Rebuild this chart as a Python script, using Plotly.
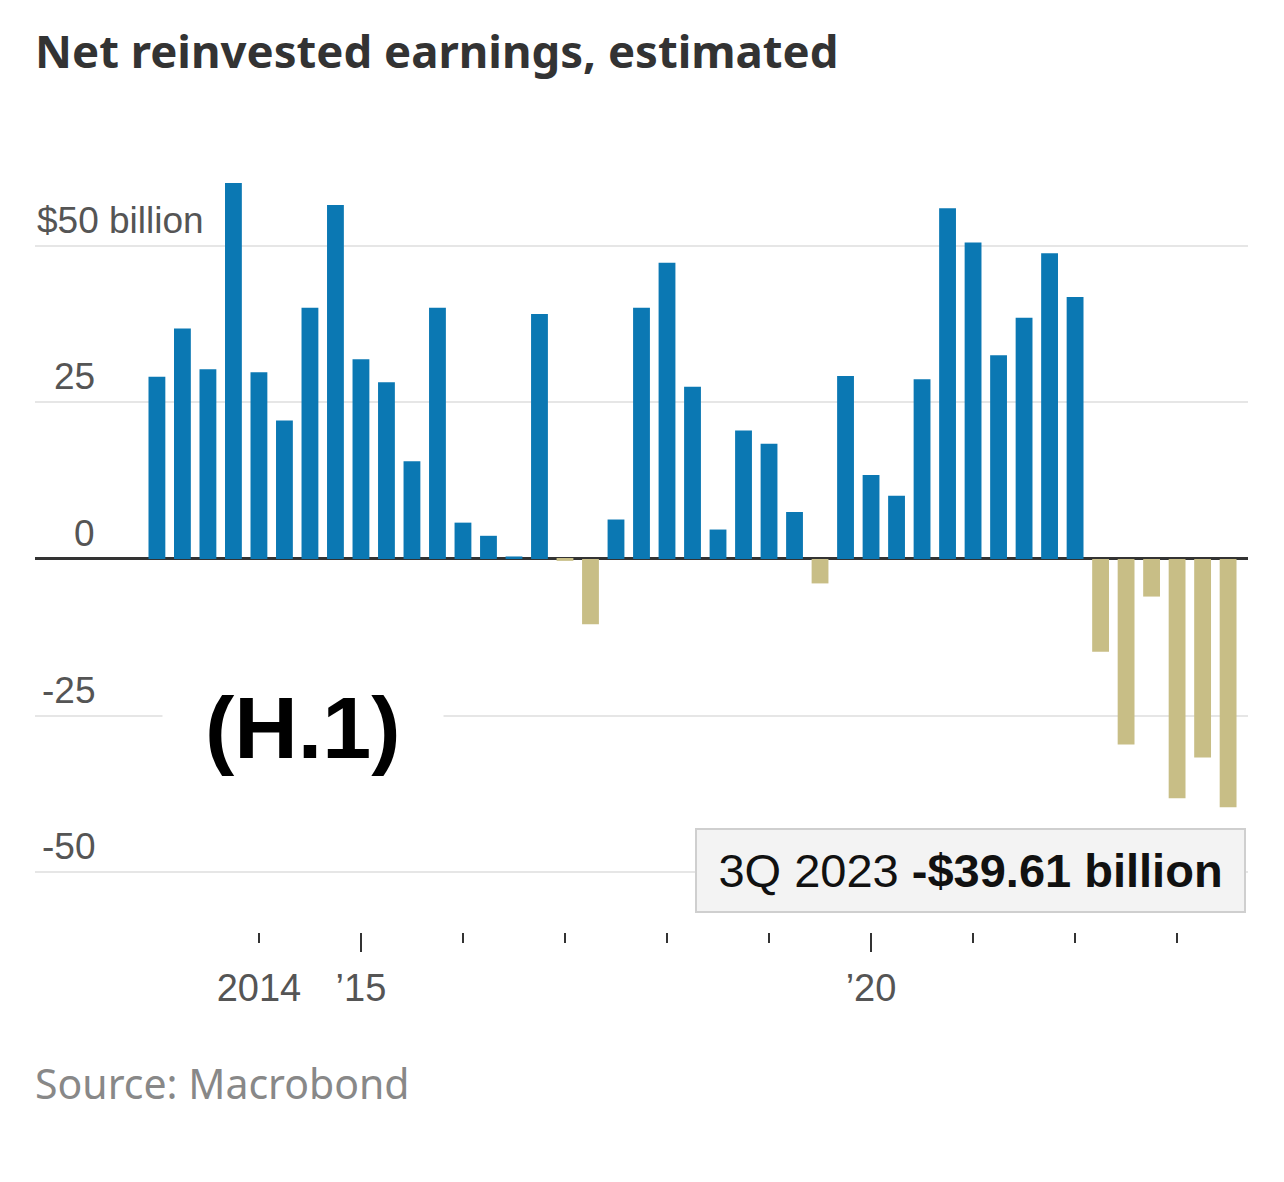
import plotly.graph_objects as go

# ---------------- data ----------------
years = list(range(2013, 2024))
quarters = [f"{q}Q {y}" for y in years for q in (1, 2, 3, 4)][:43]   # 1Q 2013 .. 3Q 2023
values = [
    29.1, 36.8, 30.3, 60.0,      # 2013
    29.8, 22.1, 40.1, 56.5,      # 2014
    31.9, 28.2, 15.6, 40.1,      # 2015
    5.8, 3.7, 0.4, 39.1,         # 2016
    -0.3, -10.4, 6.3, 40.1,      # 2017
    47.3, 27.5, 4.7, 20.5,       # 2018
    18.4, 7.5, -3.9, 29.2,       # 2019
    13.4, 10.1, 28.7, 56.0,      # 2020
    50.5, 32.5, 38.5, 48.8,      # 2021
    41.8, -14.8, -29.6, -6.0,    # 2022
    -38.2, -31.7, -39.61,        # 2023
]
y_ticks = [-50, -25, 0, 25, 50]
y_tick_text = ["-50", "-25", "0", "25", "$50 billion"]
x_label_quarters = ["1Q 2014", "1Q 2015", "1Q 2020"]
x_label_text = ["2014", "\u201915", "\u201920"]
year_tick_quarters = [f"1Q {y}" for y in range(2014, 2024)]
long_tick_quarters = ["1Q 2015", "1Q 2020"]
callout_text = "3Q 2023 <b>-$39.61 billion</b>"

BLUE = "#0b78b3"
TAN = "#c8be86"

OFF = 8                      # page body margin
W, H = 1276, 1174
L, R, T, B = 27, 36, 142, 250
PW, PH = W - L - R, H - T - B


def px_x(p):
    return (p - OFF - L) / PW


def px_y(p):
    return (H - B - (p - OFF)) / PH


idx = list(range(len(values)))
q_index = {q: i for i, q in enumerate(quarters)}
colors = [BLUE if v >= 0 else TAN for v in values]

fig = go.Figure()
fig.add_trace(go.Bar(
    x=idx, y=values, marker=dict(color=colors, line=dict(width=0)),
    customdata=quarters, hovertemplate="%{customdata}: %{y}<extra></extra>",
    showlegend=False,
))
# invisible helper trace for the secondary (long-tick) axis
fig.add_trace(go.Scatter(x=[idx[0]], y=[0], xaxis="x2", mode="markers",
                         marker=dict(opacity=0), hoverinfo="skip", showlegend=False))

xr = [-4.78, 42.78]
yr = [-59.54, 65.28]

LBL_FONT = "Liberation Sans, Arial, sans-serif"

fig.update_layout(
    width=W, height=H,
    margin=dict(l=L, r=R, t=T, b=B),
    paper_bgcolor="white", plot_bgcolor="white",
    bargap=0.34,
    xaxis=dict(
        range=xr, showgrid=False, zeroline=False, showline=False,
        tickmode="array",
        tickvals=[q_index[q] for q in x_label_quarters],
        ticktext=x_label_text,
        ticks="outside", ticklen=10, tickwidth=2, tickcolor="#333",
        ticklabelstandoff=12,
        tickfont=dict(family=LBL_FONT, size=38, color="#555"),
        minor=dict(
            tickmode="array",
            tickvals=[q_index[q] for q in year_tick_quarters if q not in x_label_quarters],
            ticks="outside", ticklen=10, tickwidth=2, tickcolor="#333", showgrid=False,
        ),
        fixedrange=True,
    ),
    xaxis2=dict(
        range=xr, overlaying="x", anchor="y", side="bottom",
        showgrid=False, zeroline=False, showline=False,
        tickmode="array", tickvals=[q_index[q] for q in long_tick_quarters],
        showticklabels=False,
        ticks="outside", ticklen=19, tickwidth=2, tickcolor="#333",
    ),
    yaxis=dict(
        range=yr, tickmode="array", tickvals=y_ticks, showticklabels=False,
        showgrid=True, gridcolor="#e6e6e6", gridwidth=2,
        zeroline=True, zerolinecolor="#333", zerolinewidth=2.5,
        showline=False, ticks="",
    ),
)

annotations = []
# y tick labels sitting above gridlines
for v, t in zip(y_ticks, y_tick_text):
    if v == 50:
        annotations.append(dict(x=px_x(35), xanchor="left", xref="paper", y=v, yref="y",
                                yanchor="bottom", yshift=3, text=t, showarrow=False,
                                font=dict(family=LBL_FONT, size=37, color="#555")))
    else:
        annotations.append(dict(x=px_x(97), xanchor="right", xref="paper", y=v, yref="y",
                                yanchor="bottom", yshift=3, text=t, showarrow=False,
                                font=dict(family=LBL_FONT, size=37, color="#555")))

# title
annotations.append(dict(x=px_x(33), xanchor="left", xref="paper", y=px_y(50), yanchor="middle",
                        yref="paper", text="<b>Net reinvested earnings, estimated</b>",
                        showarrow=False, font=dict(family="Noto Sans, sans-serif", size=45.5, color="#333")))
# source
annotations.append(dict(x=px_x(33), xanchor="left", xref="paper", y=px_y(1083), yanchor="middle",
                        yref="paper", text="Source: Macrobond", showarrow=False,
                        font=dict(family="Noto Sans, sans-serif", size=41, color="#888")))
# (H.1) label
annotations.append(dict(x=px_x(303), xanchor="center", xref="paper", y=px_y(727), yanchor="middle",
                        yref="paper", text="<b>(H.1)</b>", showarrow=False, bgcolor="white",
                        borderpad=42,
                        font=dict(family="Liberation Sans, Arial, sans-serif", size=88, color="black")))
# callout box
annotations.append(dict(x=px_x(970.5), xanchor="center", xref="paper", y=px_y(870.5), yanchor="middle",
                        yref="paper", text=callout_text, showarrow=False,
                        bgcolor="#f3f3f3", bordercolor="#cfcfcf", borderwidth=2, borderpad=0,
                        width=547, height=81, align="center",
                        font=dict(family=LBL_FONT, size=47, color="#111")))

fig.update_layout(annotations=annotations)
fig.write_html("out.html")
